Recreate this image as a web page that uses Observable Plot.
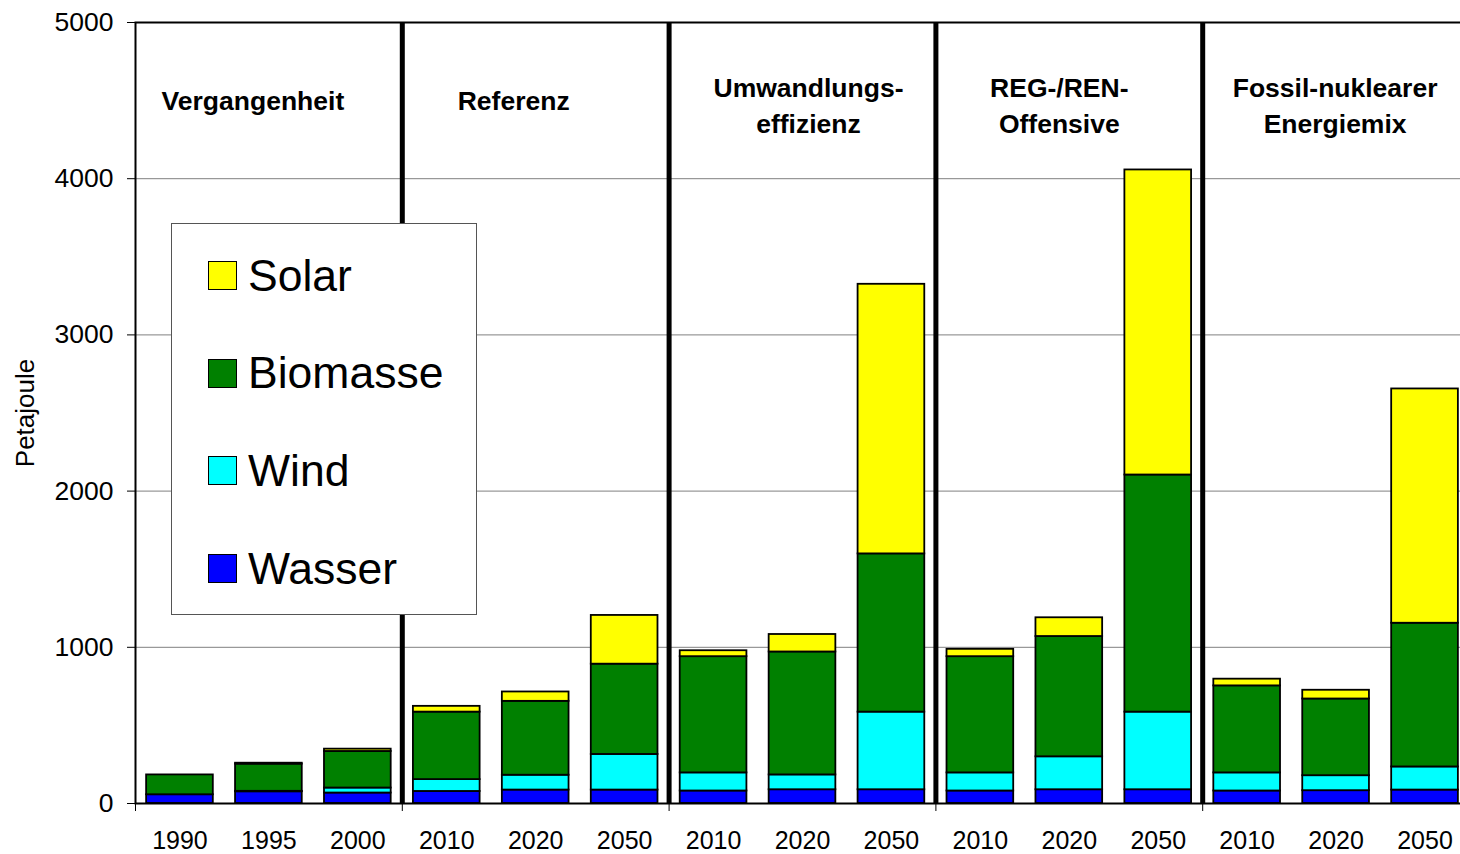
<!DOCTYPE html>
<html><head><meta charset="utf-8">
<script src="https://cdn.jsdelivr.net/npm/d3@7"></script>
<script src="https://cdn.jsdelivr.net/npm/@observablehq/plot@0.6"></script>
<style>
html,body{margin:0;padding:0;overflow:hidden;background:#fff;}
#wrap{position:relative;width:1460px;height:854px;overflow:hidden;}
#legend{position:absolute;left:171px;top:223px;width:306px;height:392px;background:#fff;border:1px solid #555;box-sizing:border-box;font-family:"Liberation Sans",Arial,sans-serif;}
.sw{position:absolute;left:36px;width:29px;height:29px;border:1.6px solid #000;box-sizing:border-box;}
.lab{position:absolute;left:76px;font-size:44.5px;line-height:44px;white-space:nowrap;color:#000;}
</style>
</head><body>
<div id="wrap"><div id="chart"></div><div id="legend"></div></div>
<script>
// ---- data ----
const groups = ["Vergangenheit", "Referenz", "Umwandlungs-\neffizienz", "REG-/REN-\nOffensive", "Fossil-nuklearer\nEnergiemix"];
const barGroup = [0,0,0, 1,1,1, 2,2,2, 3,3,3, 4,4,4];
const years    = ["1990","1995","2000", "2010","2020","2050", "2010","2020","2050", "2010","2020","2050", "2010","2020","2050"];
const wasser   = [56, 75, 67,  77, 86, 86,  80, 88, 88,  80, 88, 88,  80, 82, 86];
const wind     = [0, 3, 32,  76, 95, 228,  116, 95, 497,  116, 211, 497,  116, 96, 148];
const biomasse = [127, 174, 234,  432, 473, 578,  744, 787, 1013,  744, 770, 1518,  557, 491, 920];
const solar    = [0, 6, 15,  37, 60, 312,  38, 112, 1726,  47, 120, 1953,  43, 56, 1500];
const yTicks   = [0, 1000, 2000, 3000, 4000, 5000];
const types    = ["Wasser", "Wind", "Biomasse", "Solar"];           // stacking bottom-up
const legendOrder = ["Solar", "Biomasse", "Wind", "Wasser"];
const colors   = ["#0000FF", "#00FFFF", "#008000", "#FFFF00"];

// ---- derived tables ----
const keys = years.map((y, i) => barGroup[i] + "|" + y);
const yearOf = Object.fromEntries(keys.map((k, i) => [k, years[i]]));
const series = {Wasser: wasser, Wind: wind, Biomasse: biomasse, Solar: solar};
const rows = [];
keys.forEach((k, i) => types.forEach(t => rows.push({key: k, type: t, value: series[t][i]})));
const groupStart = groups.map((g, gi) => keys[barGroup.indexOf(gi)]);
const groupMid = groups.map((g, gi) => keys[barGroup.indexOf(gi) + 1]);

// ---- layout ----
const W = 1469, H = 854, ML = 135, MR = 0, MT = 22, MB = 51;
const step = (W - ML - MR) / keys.length;
const labelDx = [-16, -22, 6, -10, -1];
const font = "Liberation Sans, Arial, Helvetica, sans-serif";

const labelMarks = groups.map((g, gi) =>
  Plot.text([g], {
    x: () => groupMid[gi], frameAnchor: "top", lineAnchor: "top",
    dy: g.includes("\n") ? 49 : 62, dx: labelDx[gi],
    fontWeight: "bold", fontSize: 26.5, lineHeight: 1.36, fill: "black"
  })
);

const chart = Plot.plot({
  width: W, height: H, marginLeft: ML, marginRight: MR, marginTop: MT, marginBottom: MB,
  style: {fontFamily: font, background: "white", maxWidth: "none", overflow: "visible", color: "black"},
  x: {domain: keys, paddingInner: 0.25, paddingOuter: 0.125, round: false, axis: null},
  y: {domain: [0, 5000], axis: null},
  color: {domain: types, range: colors},
  marks: [
    Plot.gridY([1000, 2000, 3000, 4000], {stroke: "#808080", strokeOpacity: 1, strokeWidth: 1}),
    Plot.barY(rows, {x: "key", y: "value", fill: "type", stroke: "black", strokeWidth: 1.8, order: types}),
    Plot.ruleX(groupStart.slice(1), {dx: -step / 2, stroke: "black", strokeWidth: 5}),
    Plot.ruleX(groupStart, {dx: -step / 2, y1: 0, y2: 0, insetBottom: -8, stroke: "black", strokeWidth: 1}),
    Plot.frame({stroke: "black", strokeWidth: 2}),
    Plot.axisY({ticks: yTicks, tickSize: 8, tickPadding: 14, fontSize: 26.5, label: null, tickFormat: d => String(d)}),
    Plot.axisX({tickSize: 0, tickPadding: 28, fontSize: 25, tickFormat: k => yearOf[k], label: null}),
    Plot.text(["Petajoule"], {frameAnchor: "left", textAnchor: "middle", dx: -110, rotate: -90, fontSize: 26, fill: "black"}),
    ...labelMarks
  ]
});
document.getElementById("chart").appendChild(chart);

// ---- legend ----
const leg = document.getElementById("legend");
legendOrder.forEach((t, i) => {
  const top = 37 + i * 97.7;
  const sw = document.createElement("div");
  sw.className = "sw";
  sw.style.top = top + "px";
  sw.style.background = colors[types.indexOf(t)];
  leg.appendChild(sw);
  const lab = document.createElement("div");
  lab.className = "lab";
  lab.style.top = (top - 7.4) + "px";
  lab.textContent = t;
  leg.appendChild(lab);
});
</script>
</body></html>
